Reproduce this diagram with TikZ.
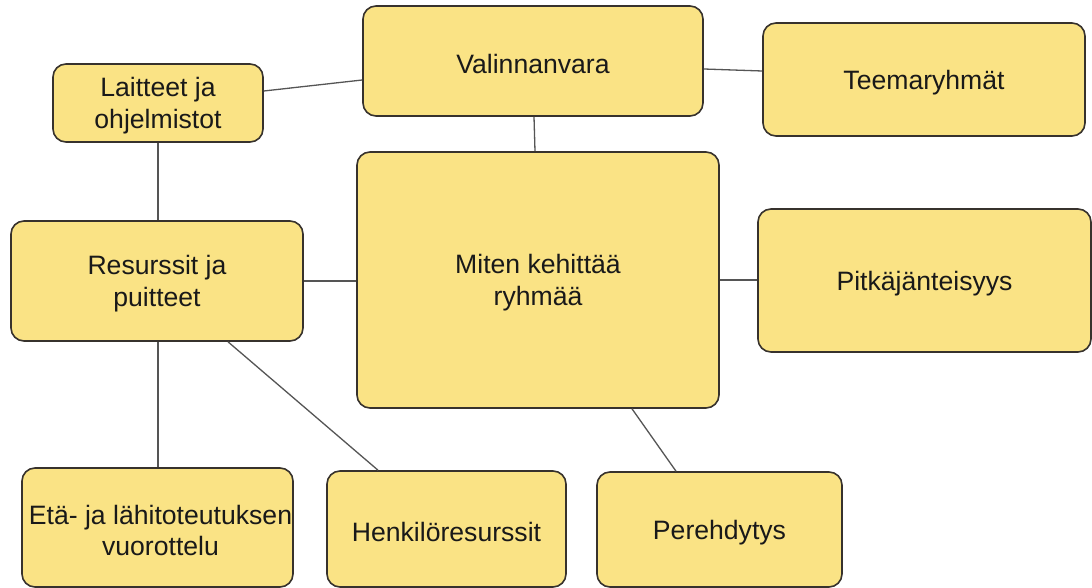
\documentclass[tikz,border=0pt]{standalone}
\usepackage{fontspec}
\setmainfont{Liberation Sans}
\definecolor{boxfill}{RGB}{250,227,133}
\definecolor{boxline}{RGB}{55,50,45}
\definecolor{conline}{RGB}{85,85,85}
\definecolor{txt}{RGB}{25,25,25}
\tikzset{
  topic/.style={draw=boxline, line width=1.6pt, fill=boxfill, rounded corners=13pt,
    inner sep=0pt},
  lbl/.style={align=center, text=txt, inner sep=0pt, yshift=-3pt,
    font=\fontsize{26.6}{31.8}\selectfont},
  con/.style={draw=conline, line width=1.3pt}
}
\begin{document}
\begin{tikzpicture}[x=1pt,y=-1pt]
\useasboundingbox (0,0) rectangle (1092,588);
\clip (0,0) rectangle (1092,588);
\fill[white] (0,0) rectangle (1092,588);

\node[topic, minimum width=210pt, minimum height=78pt, label={[lbl]center:{Laitteet ja\\ohjelmistot}}] (lait) at (158,103) {};
\node[topic, minimum width=340pt, minimum height=110pt, label={[lbl]center:{Valinnanvara}}] (val) at (533,61) {};
\node[topic, minimum width=322pt, minimum height=113pt, label={[lbl]center:{Teemaryhmät}}] (teem) at (924,79.5) {};
\node[topic, minimum width=362pt, minimum height=256pt, label={[lbl]center:{Miten kehittää\\ryhmää}}] (miten) at (538,280) {};
\node[topic, minimum width=292pt, minimum height=120pt, label={[lbl]center:{Resurssit ja\\puitteet}}] (res) at (157,281) {};
\node[topic, minimum width=333pt, minimum height=143pt, label={[lbl]center:{Pitkäjänteisyys}}] (pitk) at (924.5,280.5) {};
\node[topic, minimum width=271pt, minimum height=119pt, label={[lbl, xshift=3pt]center:{Etä- ja lähitoteutuksen\\vuorottelu}}] (eta) at (157.5,527.5) {};
\node[topic, minimum width=239pt, minimum height=116pt, label={[lbl]center:{Henkilöresurssit}}] (henk) at (446.5,529) {};
\node[topic, minimum width=245pt, minimum height=115pt, label={[lbl]center:{Perehdytys}}] (pere) at (719.5,529.5) {};

\draw[con] ([yshift=12pt]lait.east) -- ([yshift=-19pt]val.west);
\draw[con] ([yshift=-8pt]val.east) -- ([yshift=8.5pt]teem.west);
\draw[con] ([xshift=1pt]val.south) -- ([xshift=-3pt]miten.north);
\draw[con] (lait.south) -- (lait.south |- res.north);
\draw[con] (res.east) -- (res.east -| miten.west);
\draw[con] (miten.east) -- (miten.east -| pitk.west);
\draw[con] ([xshift=1pt]res.south) -- ([xshift=1pt]res.south |- eta.north);
\draw[con] ([xshift=71pt]res.south) -- ([xshift=-68.5pt]henk.north);
\draw[con] ([xshift=94pt]miten.south) -- ([xshift=-43.5pt]pere.north);
\end{tikzpicture}
\end{document}
